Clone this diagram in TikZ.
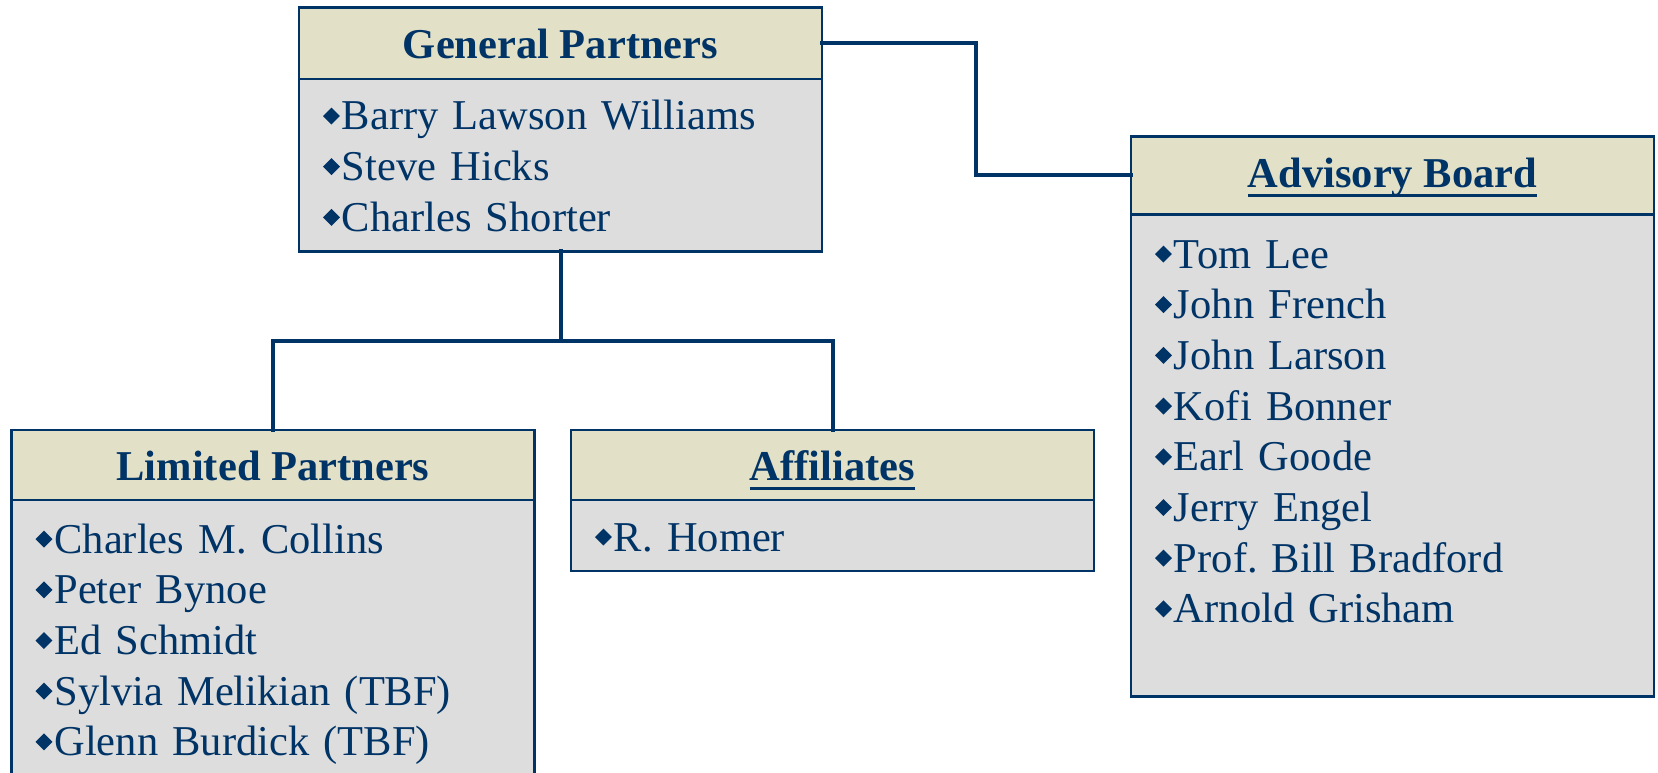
\documentclass[tikz,border=0pt]{standalone}
\usepackage{fontspec}
\setmainfont{Liberation Serif}
\usetikzlibrary{positioning}
\definecolor{navy}{RGB}{0,51,102}
\definecolor{headfill}{RGB}{226,224,199}
\definecolor{listfill}{RGB}{221,221,221}
\newsavebox\hdbox
\newcommand{\ulhead}[1]{\sbox\hdbox{#1}\rlap{\rule[-9.3pt]{\wd\hdbox}{3.3pt}}\usebox\hdbox}
\newcommand{\lstrut}{\rule[-9.5pt]{0pt}{50pt}}
\newcommand{\itm}[1]{\raisebox{5.5pt}{\rotatebox{45}{\rule{12pt}{12pt}}}\hspace{2pt}#1\lstrut}

\begin{document}
\frenchspacing
\begin{tikzpicture}[x=1pt,y=-1pt,line cap=rect,
    head/.style={draw=navy,fill=headfill,text=navy,line width=2.8pt,outer sep=0pt,
      minimum width=523pt,minimum height=70pt,text height=38pt,text depth=7pt,
      font=\fontsize{42.5}{50.7}\selectfont\bfseries},
    list/.style={draw=navy,fill=listfill,text=navy,line width=2.8pt,outer sep=0pt,
      text width=475pt,inner xsep=24pt,inner ysep=10.5pt,align=left,
      font=\fontsize{42.5}{50.7}\selectfont},
    link/.style={draw=navy,line width=4pt}]
    \useasboundingbox (0,0) rectangle (1658,773);
    \clip (0,0) rectangle (1658,773);
    \node[head,anchor=north west,minimum height=71.7pt,text depth=7.7pt] (gph) at (299,7.3) {General Partners};
    \node[list,below=0pt of gph] (gpb)
      {\itm{Barry Lawson Williams}\\ \itm{Steve Hicks}\\ \itm{Charles Shorter}};
    \node[head,anchor=north west,minimum height=77.6pt,text depth=13.6pt] (abh) at (1131,136.7) {\ulhead{Advisory Board}};
    \node[list,below=0pt of abh,minimum height=482pt] (abb)
      {\itm{Tom Lee}\\ \itm{John French}\\ \itm{John Larson}\\ \itm{Kofi Bonner}\\
       \itm{Earl Goode}\\ \itm{Jerry Engel}\\ \itm{Prof. Bill Bradford}\\ \itm{Arnold Grisham}\\ \lstrut};
    \node[head,anchor=north west] (lph) at (11.5,430) {Limited Partners};
    \node[list,below=0pt of lph,minimum height=278pt] (lpb)
      {\itm{Charles M. Collins}\\ \itm{Peter Bynoe}\\ \itm{Ed Schmidt}\\
       \itm{Sylvia Melikian (TBF)}\\ \itm{Glenn Burdick (TBF)}};
    \node[head,anchor=north west] (afh) at (571,430) {\ulhead{Affiliates}};
    \node[list,below=0pt of afh] (afb) {\itm{R. Homer}};
    \coordinate (elbow) at (976,100);
    \coordinate (split) at (560.5,340.5);
    \draw[link] (gph.east) -| (elbow) |- (abh.west);
    \draw[link] (gpb.south) -- (split);
    \draw[link] (lph.north) |- (split) -| (afh.north);
\end{tikzpicture}
\end{document}
